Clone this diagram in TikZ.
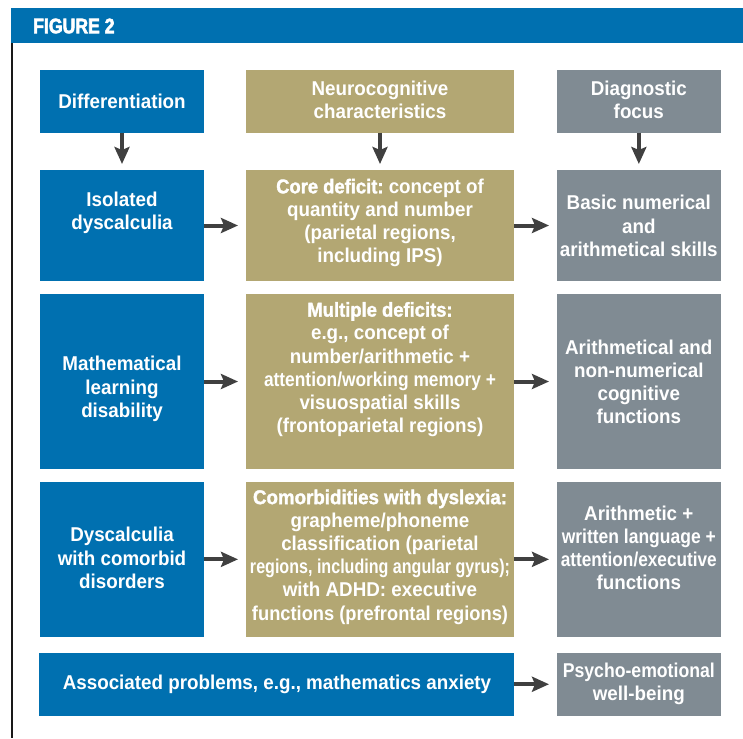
\documentclass[tikz,border=0pt]{standalone}
\usepackage{fontspec}
\usepackage{graphicx}
\usetikzlibrary{arrows.meta}
\newfontfamily\boxfont{Liberation Sans}[FakeStretch=0.94]
\newfontfamily\emfont{Liberation Sans}[FakeStretch=0.92, BoldFeatures={FakeBold=1.6}]
\newfontfamily\hdrfont{Liberation Sans}[FakeStretch=0.84, BoldFeatures={FakeBold=2.6}]
\definecolor{cblue}{HTML}{0070B0}
\definecolor{ctan}{HTML}{B3A773}
\definecolor{cgray}{HTML}{808B93}
\definecolor{carrow}{HTML}{404040}
\newcommand{\hi}[1]{{\emfont\bfseries #1}}
\newcommand{\squeeze}[2]{\resizebox{#1}{\height}{#2}}
\tikzset{
  box/.style={draw=none, inner sep=0pt, outer sep=0pt, anchor=north west},
  bluebox/.style={box, fill=cblue},
  tanbox/.style={box, fill=ctan},
  graybox/.style={box, fill=cgray},
  txt/.style={text=white, align=center, inner sep=0pt, font=\boxfont\bfseries\fontsize{20}{23.2}\selectfont},
  arr/.style={draw=carrow, line width=4pt, -{Stealth[length=17pt,width=15pt,inset=3pt]}},
  harr/.style={arr, shorten >=8pt},
  varr/.style={arr, shorten >=6pt},
}
\begin{document}
\begin{tikzpicture}[x=1pt,y=-1pt]
\path[use as bounding box] (0,0) rectangle (743,738);
% header
\fill[cblue] (11,8) rectangle (743,42.7);
\fill[black!90] (11,42.7) rectangle (13,738);
\node[anchor=west, text=white, inner sep=0pt, font=\hdrfont\bfseries\fontsize{21}{24}\selectfont] (title) at (33,26) {FIGURE 2};
% row 0
\node[bluebox, minimum width=164pt, minimum height=62.7pt] (b0) at (40,70) {};
\node[tanbox, minimum width=268pt, minimum height=62.7pt] (t0) at (246,70) {};
\node[graybox, minimum width=163.7pt, minimum height=62.7pt] (g0) at (557,70) {};
% row 1
\node[bluebox, minimum width=164pt, minimum height=111pt] (b1) at (40,170) {};
\node[tanbox, minimum width=268pt, minimum height=111pt] (t1) at (246,170) {};
\node[graybox, minimum width=163.7pt, minimum height=111pt] (g1) at (557,170) {};
% row 2
\node[bluebox, minimum width=164pt, minimum height=175pt] (b2) at (40,294) {};
\node[tanbox, minimum width=268pt, minimum height=175pt] (t2) at (246,294) {};
\node[graybox, minimum width=163.7pt, minimum height=175pt] (g2) at (557,294) {};
% row 3
\node[bluebox, minimum width=164pt, minimum height=154.7pt] (b3) at (40,482) {};
\node[tanbox, minimum width=268pt, minimum height=154.7pt] (t3) at (246,482) {};
\node[graybox, minimum width=163.7pt, minimum height=154.7pt] (g3) at (557,482) {};
% row 4
\node[bluebox, minimum width=475pt, minimum height=63.5pt] (b4) at (39,652.5) {};
\node[graybox, minimum width=163.7pt, minimum height=63.5pt] (g4) at (557,652.5) {};
% texts
\node[txt] (xb0) at (122,101) {Differentiation};
\node[txt] (xt0) at (380,100) {Neurocognitive\\characteristics};
\node[txt] (xg0) at (638.8,100) {Diagnostic\\focus};
\node[txt] (xb1) at (122,212.5) {Isolated\\dyscalculia};
\node[txt] (xt1) at (380,223) {\hi{Core deficit:}~concept of\\quantity and number\\(parietal regions,\\including IPS)};
\node[txt] (xg1) at (638.8,226) {Basic numerical\\and\\arithmetical skills};
\node[txt] (xb2) at (122,389) {Mathematical\\learning\\disability};
\node[txt] (xt2) at (380,369.5) {\hi{Multiple deficits:}\\e.g., concept of\\number/arithmetic +\\\squeeze{232pt}{attention/working memory +}\\visuospatial skills\\(frontoparietal regions)};
\node[txt] (xg2) at (638.8,382) {Arithmetical and\\non-numerical\\cognitive\\functions};
\node[txt] (xb3) at (122,558) {Dyscalculia\\with comorbid\\disorders};
\node[txt] (xt3) at (380,557) {\squeeze{254pt}{\hi{Comorbidities with dyslexia:}}\\grapheme/phoneme\\classification (parietal\\\squeeze{260pt}{regions, including angular gyrus);}\\with ADHD: executive\\\squeeze{256pt}{functions (prefrontal regions)}};
\node[txt] (xg3) at (638.8,548) {Arithmetic +\\\squeeze{154pt}{written language +}\\\squeeze{156pt}{attention/executive}\\functions};
\node[txt] (xb4) at (277,684) {Associated problems, e.g., mathematics anxiety};
\node[txt] (xg4) at (638.8,683.5) {\squeeze{152pt}{Psycho-emotional}\\well-being};
% arrows
\draw[varr] (b0.south) -- (b1.north);
\draw[varr] (t0.south) -- (t1.north);
\draw[varr] (g0.south) -- (g1.north);
\draw[harr] (b1.east) -- (t1.west);
\draw[harr] (t1.east) -- (g1.west);
\draw[harr] (b2.east) -- (t2.west);
\draw[harr] (t2.east) -- (g2.west);
\draw[harr] (b3.east) -- (t3.west);
\draw[harr] (t3.east) -- (g3.west);
\draw[harr] (b4.east) -- (g4.west);
\end{tikzpicture}
\end{document}
